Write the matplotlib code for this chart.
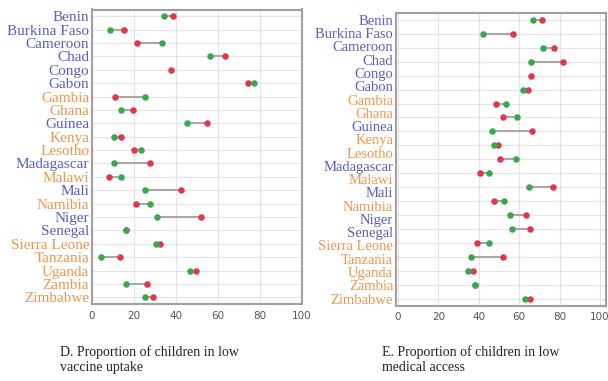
import matplotlib
matplotlib.use("Agg")
import matplotlib.pyplot as plt

NaN = float("nan")

countries = ["Benin", "Burkina Faso", "Cameroon", "Chad", "Congo", "Gabon", "Gambia",
             "Ghana", "Guinea", "Kenya", "Lesotho", "Madagascar", "Malawi", "Mali",
             "Namibia", "Niger", "Senegal", "Sierra Leone", "Tanzania", "Uganda",
             "Zambia", "Zimbabwe"]
# label group: 'b' blue, 'o' orange
groups = ["b", "b", "b", "b", "b", "b", "o", "o", "b", "o", "o", "b", "o", "b",
          "o", "b", "b", "o", "o", "o", "o", "o"]

# Panel D: low vaccine uptake (one row per country)
d_green = [34.4, 8.6, 33.3, 56.2, NaN, 77.1, 25.4, 14.0, 45.1, 10.6, 23.3, 10.5,
           13.8, 25.4, 27.6, 30.8, 16.0, 30.3, 4.4, 46.7, 16.2, 25.4]
d_red = [38.4, 15.4, 21.3, 63.5, 37.6, 74.4, 10.8, 19.4, 54.8, 13.7, 20.1, 27.5,
         8.3, 42.2, 20.8, 51.9, 16.0, 32.4, 13.5, 49.5, 26.3, 29.2]

# Panel E: low medical access (21 marker rows; Gambia has no markers)
e_green = [66.7, 42.1, 71.7, 65.7, NaN, 62.0, 53.3, 58.7, 46.5, 47.6, 58.2,
           45.2, 64.9, 52.7, 55.6, 56.4, 44.9, 36.3, 34.6, 38.0, 62.8]
e_red = [71.4, 56.7, 77.1, 81.8, 65.7, 64.4, 48.5, 52.2, 66.3, 49.3, 50.4,
         40.8, 76.9, 47.3, 63.3, 65.5, 39.2, 51.9, 36.9, 38.2, 65.2]

xticks = [0, 20, 40, 60, 80, 100]
captions = ["D. Proportion of children in low\nvaccine uptake",
            "E. Proportion of children in low\nmedical access"]

BLUE = "#5a5cc8"
ORANGE = "#f0954f"
GREEN = "#3aa84a"
RED = "#e0374e"

W, H = 608, 381
fig = plt.figure(figsize=(W / 100, H / 100), dpi=100)


def px_axes(left, top, right, bottom):
    return fig.add_axes([left / W, 1 - bottom / H, (right - left) / W, (bottom - top) / H])


def panel(ax, names, grp, green, red, xlim, fs):
    n = len(green)
    ys = list(range(n))
    ax.set_xlim(*xlim)
    ax.set_ylim(n - 0.5, -0.5)
    for y in ys:
        ax.axhline(y, color="#e4e4e4", lw=0.8, zorder=0)
    for x in xticks:
        ax.axvline(x, color="#e4e4e4", lw=0.8, zorder=0)
    ax.hlines(ys, green, red, color="#a8a8a8", lw=1.5, zorder=2)
    ax.scatter(red, ys, s=22, color=RED, zorder=3, linewidths=0)
    ax.scatter(green, ys, s=22, color=GREEN, zorder=4, linewidths=0)
    m = len(names)
    lab_pos = [i * (n - 1) / (m - 1) for i in range(m)]
    ax.set_yticks(lab_pos)
    ax.set_yticklabels(names, family="Liberation Serif", fontsize=fs)
    for lbl, g in zip(ax.get_yticklabels(), grp):
        lbl.set_color(BLUE if g == "b" else ORANGE)
    ax.set_xticks(xticks)
    ax.set_xticklabels([str(x) for x in xticks], family="DejaVu Sans", fontsize=7.5,
                       color="#555555")
    ax.tick_params(axis="y", length=0, pad=2)
    ax.tick_params(axis="x", length=0, pad=5)
    for s in ax.spines.values():
        s.set_color("#a0a0a0")
        s.set_linewidth(1.5)


ax1 = px_axes(92, 9.5, 302, 304)
panel(ax1, countries, groups, d_green, d_red, (0, 100), 11)

ax2 = px_axes(396, 13, 606, 305.5)
panel(ax2, countries, groups, e_green, e_red, (-1, 103), 10.5)

fig.text(60 / W, 1 - 345 / H, captions[0], family="Liberation Serif", fontsize=10,
         va="top", ha="left", color="#222222", linespacing=1.2)
fig.text(382 / W, 1 - 345 / H, captions[1], family="Liberation Serif", fontsize=10,
         va="top", ha="left", color="#222222", linespacing=1.2)

fig.savefig("out.png", dpi=100)
